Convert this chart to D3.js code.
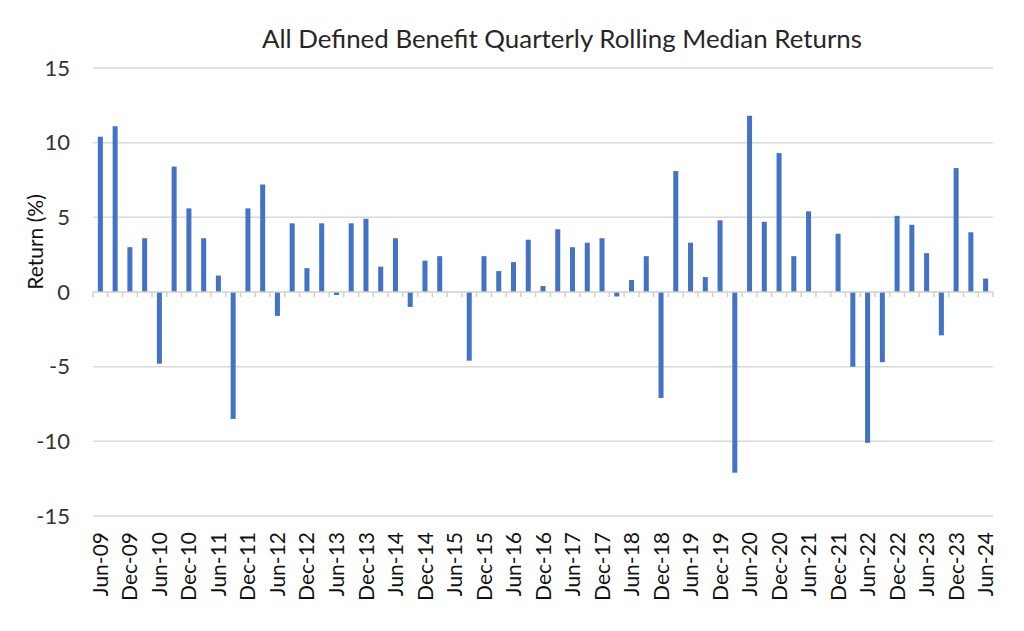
<!DOCTYPE html>
<html>
<head>
<meta charset="utf-8">
<script src="https://cdn.jsdelivr.net/npm/d3@7"></script>
<style>
  body { margin: 0; background: #fff; }
  svg { display: block; font-family: Lato, "Open Sans", sans-serif; }
</style>
</head>
<body>
<svg id="chart" width="1024" height="631"></svg>
<script>
const quarters = [
  "Jun-09", "Sep-09", "Dec-09", "Mar-10", "Jun-10", "Sep-10", "Dec-10", "Mar-11",
  "Jun-11", "Sep-11", "Dec-11", "Mar-12", "Jun-12", "Sep-12", "Dec-12", "Mar-13",
  "Jun-13", "Sep-13", "Dec-13", "Mar-14", "Jun-14", "Sep-14", "Dec-14", "Mar-15",
  "Jun-15", "Sep-15", "Dec-15", "Mar-16", "Jun-16", "Sep-16", "Dec-16", "Mar-17",
  "Jun-17", "Sep-17", "Dec-17", "Mar-18", "Jun-18", "Sep-18", "Dec-18", "Mar-19",
  "Jun-19", "Sep-19", "Dec-19", "Mar-20", "Jun-20", "Sep-20", "Dec-20", "Mar-21",
  "Jun-21", "Sep-21", "Dec-21", "Mar-22", "Jun-22", "Sep-22", "Dec-22", "Mar-23",
  "Jun-23", "Sep-23", "Dec-23", "Mar-24", "Jun-24"
];

const returns = [
  10.4, 11.1, 3.0, 3.6, -4.8, 8.4, 5.6, 3.6,
  1.1, -8.5, 5.6, 7.2, -1.6, 4.6, 1.6, 4.6,
  -0.2, 4.6, 4.9, 1.7, 3.6, -1.0, 2.1, 2.4,
  0, -4.6, 2.4, 1.4, 2.0, 3.5, 0.4, 4.2,
  3.0, 3.3, 3.6, -0.3, 0.8, 2.4, -7.1, 8.1,
  3.3, 1.0, 4.8, -12.1, 11.8, 4.7, 9.3, 2.4,
  5.4, 0, 3.9, -5.0, -10.1, -4.7, 5.1, 4.5,
  2.6, -2.9, 8.3, 4.0, 0.9
];

const yTicks = [-15, -10, -5, 0, 5, 10, 15];

const title = "All Defined Benefit Quarterly Rolling Median Returns";
const yLabel = "Return (%)";

const data = quarters.map((q, i) => ({ q, v: returns[i] }));

const margin = { top: 68, right: 31, bottom: 115, left: 93 };
const width = 1024, height = 631;

const svg = d3.select("#chart");

const x = d3.scaleBand()
  .domain(quarters)
  .range([margin.left, width - margin.right])
  .paddingInner(0.66)
  .paddingOuter(0.33);

const y = d3.scaleLinear()
  .domain([-15, 15])
  .range([height - margin.bottom, margin.top]);

// Gridlines
svg.append("g")
  .selectAll("line")
  .data(yTicks.filter(d => d !== 0))
  .join("line")
  .attr("x1", margin.left)
  .attr("x2", width - margin.right)
  .attr("y1", d => y(d))
  .attr("y2", d => y(d))
  .attr("stroke", "#d9d9d9")
  .attr("stroke-width", 1.5);

// Y tick labels
svg.append("g")
  .selectAll("text")
  .data(yTicks)
  .join("text")
  .attr("x", 70)
  .attr("y", d => y(d))
  .attr("dy", "0.35em")
  .attr("text-anchor", "end")
  .attr("font-size", "22px")
  .attr("fill", "#333")
  .text(d => d);

// Bars
svg.append("g")
  .selectAll("rect")
  .data(data)
  .join("rect")
  .attr("x", d => x(d.q))
  .attr("width", x.bandwidth())
  .attr("y", d => y(Math.max(0, d.v)))
  .attr("height", d => Math.abs(y(d.v) - y(0)))
  .attr("fill", "#4472c4");

// Zero axis line with ticks at category boundaries
const step = x.step();
const axisG = svg.append("g");
axisG.append("line")
  .attr("x1", margin.left)
  .attr("x2", width - margin.right)
  .attr("y1", y(0))
  .attr("y2", y(0))
  .attr("stroke", "#d0d0d0")
  .attr("stroke-width", 1.5);
axisG.selectAll("line.tick")
  .data(d3.range(quarters.length + 1))
  .join("line")
  .attr("class", "tick")
  .attr("x1", i => margin.left + i * step)
  .attr("x2", i => margin.left + i * step)
  .attr("y1", y(0))
  .attr("y2", y(0) + 5)
  .attr("stroke", "#d0d0d0")
  .attr("stroke-width", 1.5);

// X labels (Jun and Dec only), rotated
svg.append("g")
  .selectAll("text")
  .data(quarters.filter((q, i) => i % 2 === 0))
  .join("text")
  .attr("transform", d => `translate(${x(d) + x.bandwidth() / 2},${height - margin.bottom + 16}) rotate(-90)`)
  .attr("dy", "0.36em")
  .attr("text-anchor", "end")
  .attr("font-size", "21px")
  .attr("fill", "#111")
  .text(d => d);

// Title
svg.append("text")
  .attr("x", 562)
  .attr("y", 48)
  .attr("text-anchor", "middle")
  .attr("font-size", "25px")
  .attr("fill", "#262626")
  .attr("textLength", 600)
  .attr("lengthAdjust", "spacingAndGlyphs")
  .text(title);

// Y axis label
svg.append("text")
  .attr("transform", `translate(36,242) rotate(-90)`)
  .attr("dy", "0.35em")
  .attr("text-anchor", "middle")
  .attr("font-size", "21px")
  .attr("fill", "#111")
  .text(yLabel);
</script>
</body>
</html>
